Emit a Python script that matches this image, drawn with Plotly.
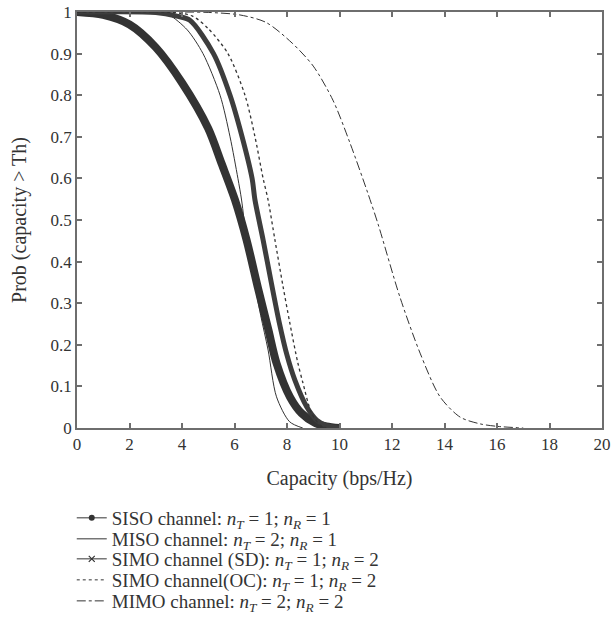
import plotly.graph_objects as go

# ---- data ----
siso_x = [0, 1, 2, 3, 4, 5, 5.5, 6.02, 6.46, 6.9, 7.29, 7.6, 8.11, 8.56, 9.07, 9.5, 10]
siso_y = [1, 0.993, 0.97, 0.915, 0.83, 0.72, 0.637, 0.548, 0.452, 0.335, 0.236, 0.156, 0.075, 0.035, 0.012, 0.004, 0.0]

miso_x = [0, 2, 3, 3.5, 4.2, 4.8, 5.45, 5.83, 6.13, 6.27, 6.46, 6.7, 7.0, 7.28, 7.6, 8.1, 8.6]
miso_y = [1, 1.0, 0.998, 0.993, 0.957, 0.9, 0.8, 0.7, 0.6, 0.548, 0.452, 0.37, 0.27, 0.1875, 0.075, 0.015, 0.0]

simo_sd_x = [0, 3, 3.8, 4.3, 5.2, 5.83, 6.29, 6.67, 6.78, 7.09, 7.4, 7.7, 8.0, 8.3, 8.75, 9.13, 9.5, 10]
simo_sd_y = [1, 0.999, 0.99, 0.98, 0.9, 0.8, 0.7, 0.6, 0.548, 0.452, 0.35, 0.255, 0.175, 0.115, 0.051, 0.019, 0.006, 0.0]

simo_oc_x = [0, 3.5, 4.4, 5.0, 5.75, 6.4, 6.78, 7.09, 7.28, 7.54, 7.85, 8.1, 8.4, 8.6, 8.94, 9.26, 9.5]
simo_oc_y = [1, 1.0, 0.99, 0.96, 0.9, 0.8, 0.7, 0.6, 0.548, 0.452, 0.34, 0.255, 0.16, 0.11, 0.035, 0.007, 0.0]

mimo_x = [0, 4, 5, 6.2, 7.2, 8.2, 9.0, 9.75, 10.4, 11.05, 11.47, 12.3, 13.07, 13.83, 14.6, 15.35, 16, 17]
mimo_y = [1, 1.0, 0.999, 0.993, 0.975, 0.925, 0.87, 0.788, 0.685, 0.57, 0.49, 0.315, 0.18, 0.075, 0.026, 0.01, 0.004, 0.0]

x_ticks = list(range(0, 21, 2))
y_ticks = [i / 10 for i in range(0, 11)]

names = [
    "SISO channel: <i>n</i><sub><i>T</i></sub> = 1; <i>n</i><sub><i>R</i></sub> = 1",
    "MISO channel: <i>n</i><sub><i>T</i></sub> = 2; <i>n</i><sub><i>R</i></sub> = 1",
    "SIMO channel (SD): <i>n</i><sub><i>T</i></sub> = 1; <i>n</i><sub><i>R</i></sub> = 2",
    "SIMO channel(OC): <i>n</i><sub><i>T</i></sub> = 1; <i>n</i><sub><i>R</i></sub> = 2",
    "MIMO channel: <i>n</i><sub><i>T</i></sub> = 2; <i>n</i><sub><i>R</i></sub> = 2",
]

ink = "#333333"
font = "Liberation Serif, Times New Roman, serif"
sp = dict(shape="spline", smoothing=0.8)
legs = ["legend", "legend2", "legend3", "legend4", "legend5"]

fig = go.Figure()
# curves drawn on the chart
fig.add_trace(go.Scatter(x=siso_x, y=siso_y, mode="lines", showlegend=False, legendgroup="a",
                         line=dict(color=ink, width=8, **sp)))
fig.add_trace(go.Scatter(x=miso_x, y=miso_y, mode="lines", showlegend=False, legendgroup="b",
                         line=dict(color=ink, width=1, **sp)))
fig.add_trace(go.Scatter(x=simo_sd_x, y=simo_sd_y, mode="lines", showlegend=False, legendgroup="c",
                         line=dict(color="#3d3d3d", width=5, **sp)))
fig.add_trace(go.Scatter(x=simo_oc_x, y=simo_oc_y, mode="lines", showlegend=False, legendgroup="d",
                         line=dict(color=ink, width=1.3, dash="dot", **sp)))
fig.add_trace(go.Scatter(x=mimo_x, y=mimo_y, mode="lines", showlegend=False, legendgroup="e",
                         line=dict(color=ink, width=1, dash="dashdot", **sp)))

# legend keys (thin line + marker as in the reference), one legend per row
fig.add_trace(go.Scatter(x=[None], y=[None], name=names[0], mode="lines+markers", legendgroup="a", legend=legs[0],
                         line=dict(color=ink, width=1), marker=dict(symbol="circle", size=6, color=ink)))
fig.add_trace(go.Scatter(x=[None], y=[None], name=names[1], mode="lines", legendgroup="b", legend=legs[1],
                         line=dict(color=ink, width=1)))
fig.add_trace(go.Scatter(x=[None], y=[None], name=names[2], mode="lines+markers", legendgroup="c", legend=legs[2],
                         line=dict(color=ink, width=1),
                         marker=dict(symbol="x-thin", size=6, color=ink, line=dict(width=1.2, color=ink))))
fig.add_trace(go.Scatter(x=[None], y=[None], name=names[3], mode="lines", legendgroup="d", legend=legs[3],
                         line=dict(color=ink, width=1, dash="dot")))
fig.add_trace(go.Scatter(x=[None], y=[None], name=names[4], mode="lines", legendgroup="e", legend=legs[4],
                         line=dict(color=ink, width=1, dash="dashdot")))

axis_common = dict(showline=True, linecolor="#6e6e6e", linewidth=1.5, mirror="ticks",
                   ticks="inside", ticklen=5, tickcolor="#6e6e6e", tickwidth=1.5,
                   showgrid=False, zeroline=False,
                   tickfont=dict(family=font, size=17, color=ink))

fig.update_xaxes(range=[0, 20], tickvals=x_ticks,
                 title=dict(text="Capacity (bps/Hz)", font=dict(family=font, size=20, color=ink), standoff=18),
                 **axis_common)
fig.update_yaxes(range=[0, 1], tickvals=y_ticks,
                 title=dict(text="Prob (capacity > Th)", font=dict(family=font, size=20, color=ink), standoff=19),
                 **axis_common)

row_y = [-0.2163, -0.2668, -0.3149, -0.3654, -0.4159]
leg_layout = {}
for key, yy in zip(legs, row_y):
    leg_layout[key] = dict(x=-0.01, y=yy, xanchor="left", yanchor="middle", bgcolor="rgba(0,0,0,0)",
                           font=dict(family=font, size=19, color=ink), itemwidth=30,
                           groupclick="togglegroup")

fig.update_layout(
    width=613, height=629,
    margin=dict(l=77, r=11, t=12, b=201, autoexpand=False),
    paper_bgcolor="white", plot_bgcolor="white",
    font=dict(family=font, size=17, color=ink),
    showlegend=True,
    **leg_layout,
)

fig.write_html("out.html", config={"displayModeBar": False},
               post_script="document.body.style.margin='0px';")
